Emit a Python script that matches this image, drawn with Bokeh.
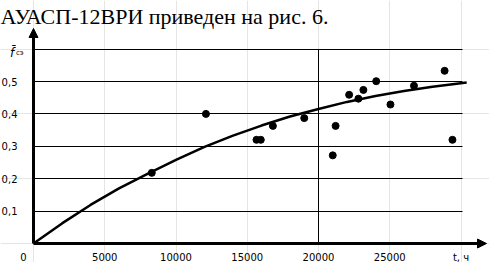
from bokeh.plotting import figure
from bokeh.models import (FixedTicker, Arrow, NormalHead, LinearAxis, Grid,
                          ColumnDataSource, CustomJSTickFormatter)
from bokeh.core.properties import value
from bokeh.embed import file_html
from bokeh.resources import INLINE

# ---- data ----
hours = [8300, 12100, 15650, 15950, 16800, 19000, 21000, 21200, 22150,
         22800, 23150, 24050, 25050, 26700, 28850, 29400]
values = [0.218, 0.400, 0.320, 0.320, 0.363, 0.387, 0.272, 0.363, 0.459,
          0.447, 0.474, 0.501, 0.429, 0.487, 0.533, 0.320]

trend_hours = [0, 2000, 4000, 6000, 8000, 10000, 12000, 14000, 16000,
               18000, 20000, 22000, 24000, 26000, 28000, 30400]
trend_values = [0.0, 0.062, 0.119, 0.170, 0.215, 0.258, 0.298, 0.333, 0.364,
                0.392, 0.415, 0.437, 0.455, 0.471, 0.484, 0.497]

origin_label_pos = -700          # the shared "0" sits left of the origin
x_ticks = [origin_label_pos, 5000, 10000, 15000, 20000, 25000, 30000]
x_tick_labels = {origin_label_pos: "0", 30000: "t, ч"}
y_ticks = [0.1, 0.2, 0.3, 0.4, 0.5]
y_grid_ticks = [0.1, 0.2, 0.3, 0.4, 0.5, 0.6]
x_grid_ticks = [20000]
x_grid_end = 30100
y_grid_end = 0.6
title_text = "АУАСП-12ВРИ приведен на рис. 6."
y_name = "f\u0304"
y_name_sub = "сэ"

# ---- layout (frame = whole canvas) ----
W, H = 489, 262
X0, Y0 = 33, 243            # pixel position of the origin
PX_X = 14.25 / 1000         # pixels per hour
PX_Y = 324.0                # pixels per unit


def dx(px):
    return (px - X0) / PX_X


def dy(py):
    return (Y0 - py) / PX_Y


p = figure(width=W, height=H, x_range=(dx(0), dx(W)), y_range=(dy(H), dy(0)),
           output_backend="svg", toolbar_location=None,
           x_axis_location=None, y_axis_location=None,
           min_border=0)
p.outline_line_color = None
p.background_fill_color = "white"
p.border_fill_color = "white"

tick_font = "DejaVu Sans"

xaxis = LinearAxis(ticker=FixedTicker(ticks=x_ticks), fixed_location=0,
                   major_label_overrides=x_tick_labels)
yaxis = LinearAxis(ticker=FixedTicker(ticks=y_ticks), fixed_location=0,
                   formatter=CustomJSTickFormatter(
                       code="return tick.toFixed(1).replace('.', ',');"))
for ax in (xaxis, yaxis):
    ax.axis_line_color = None
    ax.major_tick_line_color = None
    ax.minor_tick_line_color = None
    ax.major_tick_out = 0
    ax.major_tick_in = 0
    ax.major_label_text_font = tick_font
    ax.major_label_text_font_size = "10px"
    ax.major_label_text_color = "black"
xaxis.major_label_standoff = 8
yaxis.major_label_standoff = 16
p.add_layout(xaxis, "below")
p.add_layout(yaxis, "left")

p.add_layout(Grid(dimension=1, ticker=FixedTicker(ticks=y_grid_ticks),
                  grid_line_color="black", grid_line_width=1,
                  cross_bounds=(0, x_grid_end)))
p.add_layout(Grid(dimension=0, ticker=FixedTicker(ticks=x_grid_ticks),
                  grid_line_color="black", grid_line_width=1,
                  cross_bounds=(0, y_grid_end)))

p.line(trend_hours, trend_values, line_color="black", line_width=2.5)
p.scatter(hours, values, size=7, fill_color="black", line_color="black")

axes_src = ColumnDataSource(dict(x0=[0, 0], y0=[0, 0],
                                 x1=[dx(486), 0], y1=[0, dy(28)]))
p.add_layout(Arrow(end=NormalHead(size=9, fill_color="black", line_color="black"),
                   source=axes_src, x_start="x0", y_start="y0",
                   x_end="x1", y_end="y1", line_width=3, line_color="black",
                   level="overlay"))

p.text(x=[dx(0)], y=[dy(16)], text=[title_text],
       text_font=value("Liberation Serif"), text_font_size="22px",
       text_baseline="alphabetic", text_align="left", text_color="black")
p.text(x=[dx(11.5)], y=[dy(52)], text=[y_name],
       text_font=value(tick_font), text_font_size="12px",
       text_font_style="italic",
       text_baseline="alphabetic", text_align="center", text_color="black")
p.text(x=[dx(15.5)], y=[dy(52)], text=[y_name_sub],
       text_font=value(tick_font), text_font_size="7px",
       text_baseline="alphabetic", text_align="left", text_color="black")

open("out.html", "w").write(file_html(p, INLINE))
